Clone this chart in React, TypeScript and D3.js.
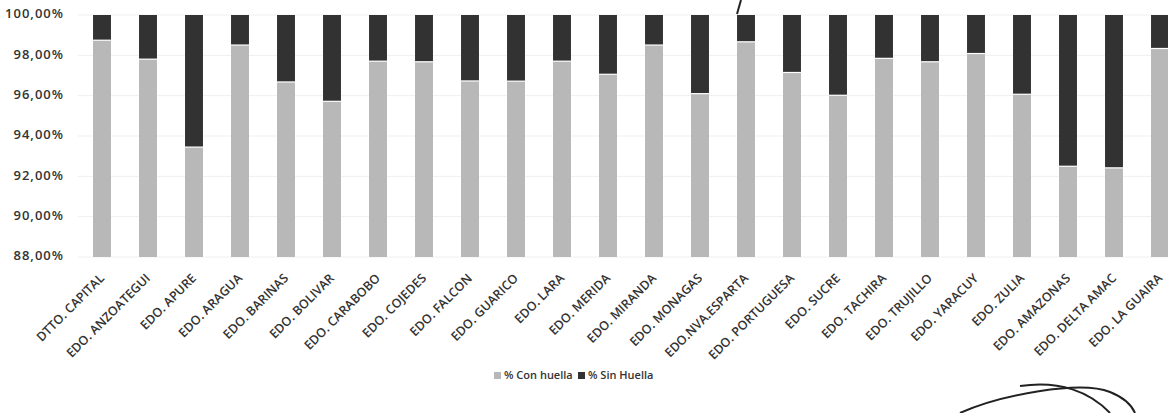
import React from "react";
import * as d3 from "d3";

const categories = [
  "DTTO. CAPITAL", "EDO. ANZOATEGUI", "EDO. APURE", "EDO. ARAGUA", "EDO. BARINAS",
  "EDO. BOLIVAR", "EDO. CARABOBO", "EDO. COJEDES", "EDO. FALCON", "EDO. GUARICO",
  "EDO. LARA", "EDO. MERIDA", "EDO. MIRANDA", "EDO. MONAGAS", "EDO.NVA.ESPARTA",
  "EDO. PORTUGUESA", "EDO. SUCRE", "EDO. TACHIRA", "EDO. TRUJILLO", "EDO. YARACUY",
  "EDO. ZULIA", "EDO. AMAZONAS", "EDO. DELTA AMAC", "EDO. LA GUAIRA",
];
const conHuella = [
  98.75, 97.81, 93.45, 98.51, 96.68, 95.72, 97.71, 97.68, 96.73, 96.72,
  97.71, 97.06, 98.51, 96.10, 98.67, 97.15, 96.02, 97.85, 97.68, 98.09,
  96.07, 92.50, 92.42, 98.34,
];
const sinHuella = conHuella.map((v) => +(100 - v).toFixed(2));
const yTicks = [88, 90, 92, 94, 96, 98, 100];
const seriesNames = ["% Con huella", "% Sin Huella"];

const W = 1168;
const H = 413;
const LIGHT = "#b8b8b8";
const DARK = "#323232";
const FONT = "'Open Sans', 'Liberation Sans', sans-serif";

export default function App() {
  const x = d3.scaleBand<string>().domain(categories).range([79, 1183]).paddingInner(0.61).paddingOuter(0.305);
  const y = d3.scaleLinear().domain([88, 100]).range([257, 15]);
  const fmt = (v: number) => v.toFixed(2).replace(".", ",") + "%";

  return (
    <svg
      width={W}
      height={H}
      style={{ position: "absolute", left: 0, top: 0, background: "#fff" }}
      fontFamily={FONT}
    >
      <rect x={0} y={0} width={W} height={H} fill="#fff" />
      {yTicks.map((t) => (
        <g key={t}>
          <line x1={78} x2={W} y1={y(t)} y2={y(t)} stroke="#efefef" strokeWidth={1} />
          <text
            x={64}
            y={y(t)}
            textAnchor="end"
            dominantBaseline="middle"
            fontSize={13}
            fontWeight={600}
            letterSpacing={1}
            fill="#333"
          >
            {fmt(t)}
          </text>
        </g>
      ))}
      {categories.map((c, i) => {
        const x0 = x(c)!;
        const bw = x.bandwidth();
        const cx = x0 + bw / 2;
        return (
          <g key={c}>
            <rect x={x0} y={y(conHuella[i])} width={bw} height={y(88) - y(conHuella[i])} fill={LIGHT} />
            <rect
              x={x0}
              y={y(conHuella[i] + sinHuella[i])}
              width={bw}
              height={y(conHuella[i]) - y(conHuella[i] + sinHuella[i])}
              fill={DARK}
            />
            <line x1={x0} x2={x0 + bw} y1={y(conHuella[i])} y2={y(conHuella[i])} stroke="#fff" strokeWidth={1.2} />
            <text
              transform={`translate(${cx + 3},${y(88) + 22}) rotate(-45)`}
              textAnchor="end"
              fontSize={12.5}
              fontWeight={600}
              fill="#333"
            >
              {c}
            </text>
          </g>
        );
      })}
      <g fontSize={11} fontWeight={600} fill="#333">
        <rect x={494} y={372} width={7} height={7} fill={LIGHT} />
        <text x={504} y={379}>{seriesNames[0]}</text>
        <rect x={578} y={372} width={7} height={7} fill={DARK} />
        <text x={588} y={379}>{seriesNames[1]}</text>
      </g>
      <g fill="none" stroke="#222" strokeWidth={2}>
        <path d="M 741 0 L 737 14" />
        <path d="M 960 413 C 1000 395, 1080 380, 1110 392 C 1125 398, 1132 406, 1135 413" />
        <path d="M 1020 386 C 1060 380, 1090 392, 1110 413" />
      </g>
    </svg>
  );
}
